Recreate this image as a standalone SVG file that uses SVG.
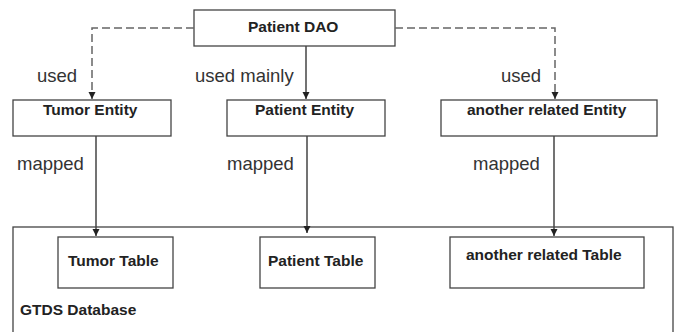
<svg xmlns="http://www.w3.org/2000/svg" width="678" height="332" viewBox="0 0 678 332">
<defs>
<marker id="arr" markerWidth="8" markerHeight="8" refX="7" refY="4" orient="auto" markerUnits="userSpaceOnUse">
<path d="M0,0.5 L7,4 L0,7.5 Z" fill="#222"/>
</marker>
</defs>
<style>
.box{fill:#fff;stroke:#444;stroke-width:1.3}
.b{font-family:"Liberation Sans",Arial,sans-serif;font-weight:bold;font-size:15.5px;fill:#222}
.l{font-family:"Liberation Sans",Arial,sans-serif;font-size:18.5px;fill:#333}
.solid{fill:none;stroke:#444;stroke-width:1.5}
.dash{fill:none;stroke:#666;stroke-width:1.5;stroke-dasharray:8 4}
</style>
<rect width="678" height="332" fill="#fff"/>
<g id="db">
<rect class="box" x="13" y="227" width="660" height="120"/>
<text class="b" x="20" y="315">GTDS Database</text>
</g>
<g id="patient-dao">
<rect class="box" x="194" y="10" width="201" height="36"/>
<text class="b" x="248" y="32">Patient DAO</text>
</g>
<g id="tumor-entity">
<rect class="box" x="13" y="100" width="158" height="36"/>
<text class="b" x="43" y="115">Tumor Entity</text>
</g>
<g id="patient-entity">
<rect class="box" x="227" y="100" width="158" height="36"/>
<text class="b" x="255" y="115">Patient Entity</text>
</g>
<g id="another-entity">
<rect class="box" x="441" y="100" width="216" height="36"/>
<text class="b" x="467" y="115">another related Entity</text>
</g>
<g id="tumor-table">
<rect class="box" x="58" y="237" width="115" height="51"/>
<text class="b" x="68" y="266">Tumor Table</text>
</g>
<g id="patient-table">
<rect class="box" x="260" y="237" width="115" height="51"/>
<text class="b" x="268" y="266">Patient Table</text>
</g>
<g id="another-table">
<rect class="box" x="450" y="237" width="194" height="51"/>
<text class="b" x="466" y="260">another related Table</text>
</g>
<g id="connectors">
<path class="dash" d="M194,28 H92 V99" marker-end="url(#arr)"/>
<path class="solid" d="M306,46 V99" marker-end="url(#arr)"/>
<path class="dash" d="M395,28 H555 V99" marker-end="url(#arr)"/>
<path class="solid" d="M96,136 V236" marker-end="url(#arr)"/>
<path class="solid" d="M307,136 V233" marker-end="url(#arr)"/>
<path class="solid" d="M554,136 V236" marker-end="url(#arr)"/>
<text class="l" x="37" y="82">used</text>
<text class="l" x="195" y="82">used mainly</text>
<text class="l" x="501" y="82">used</text>
<text class="l" x="17" y="170">mapped</text>
<text class="l" x="227" y="170">mapped</text>
<text class="l" x="473" y="170">mapped</text>
</g>
</svg>
